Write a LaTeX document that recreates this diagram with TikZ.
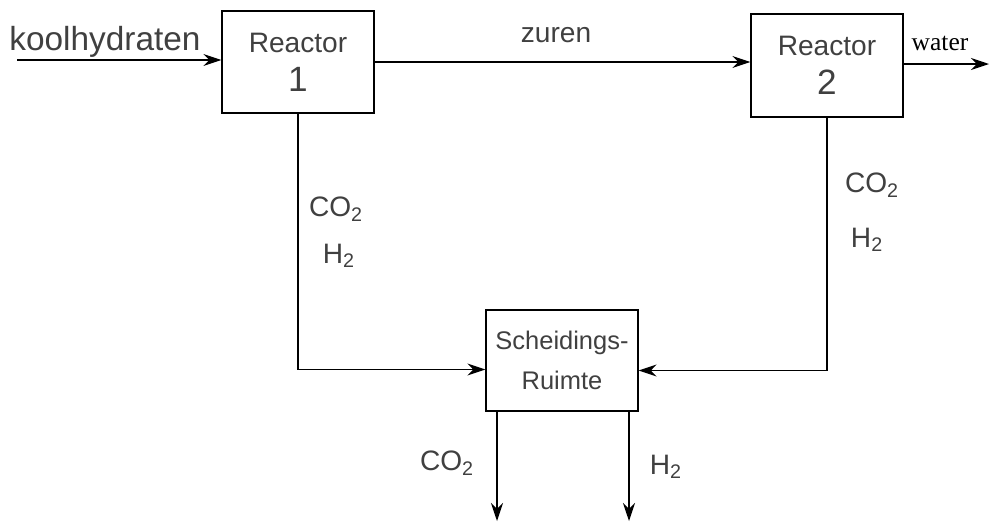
\documentclass[tikz,border=0pt]{standalone}
\usepackage{fontspec}
\setmainfont{Liberation Serif}
\newfontfamily\hand{Liberation Sans}
\usepackage{tikz}
\usetikzlibrary{arrows.meta, positioning, calc}

\begin{document}
\begin{tikzpicture}
\tikzstyle{reactor} = [rectangle, minimum width=3.04cm, minimum height=2.04cm, text centered, draw=black, line width=0.7pt, align=center, font=\hand\fontsize{16}{22}\selectfont, text=black!75]
\tikzstyle{lbl} = [font=\hand\fontsize{16}{18}\selectfont, text=black!75, inner sep=0pt]
\tikzstyle{arrow} = [line width=0.7pt, -{Stealth[length=3.6mm, width=2.4mm]}]

\useasboundingbox (0,0) rectangle (19.8,-10.44);

% Reactors
\node (reactor1) [reactor] at (5.96,-1.24) {Reactor\\{\fontsize{20}{22}\selectfont 1}};
\node (reactor2) [reactor, minimum height=2.06cm] at (16.54,-1.31) {Reactor\\{\fontsize{20}{22}\selectfont 2}};
\node (scheiding) [reactor, minimum height=2.02cm, font=\hand\fontsize{14.5}{23}\selectfont] at (11.24,-7.21) {Scheidings-\\Ruimte};

% Free ends
\coordinate (feed) at (0.34,-1.2);
\coordinate (waterout) at (19.78,-1.28);
\coordinate (outco2) at (9.94,-10.42);
\coordinate (outh2) at (12.58,-10.42);

% Labels
\node (koolh) [lbl, font=\hand\fontsize{19}{21}\selectfont] at (2.1,-0.84) {koolhydraten};
\node (zuren) [lbl] at (11.12,-0.7) {zuren};
\node (water) [inner sep=0pt, font=\fontsize{14.5}{16}\selectfont] at (18.8,-0.86) {water};
\node (co2a) [lbl] at (6.72,-4.18) {CO\textsubscript{2}};
\node (h2a) [lbl] at (6.78,-5.12) {H\textsubscript{2}};
\node (co2b) [lbl] at (17.44,-3.7) {CO\textsubscript{2}};
\node (h2b) [lbl] at (17.34,-4.8) {H\textsubscript{2}};
\node (co2c) [lbl] at (8.94,-9.26) {CO\textsubscript{2}};
\node (h2c) [lbl] at (13.32,-9.34) {H\textsubscript{2}};

% Connections
\draw [arrow] (feed) -- (feed -| reactor1.west);
\draw [arrow] (reactor1.east) -- (reactor1.east -| reactor2.west);
\draw [arrow] (waterout -| reactor2.east) -- (waterout);
\draw [arrow] (reactor1.south) |- ([yshift=-0.18cm]scheiding.west);
\draw [arrow] (reactor2.south) |- ([yshift=-0.2cm]scheiding.east);
\draw [arrow] (outco2 |- scheiding.south) -- (outco2);
\draw [arrow] (outh2 |- scheiding.south) -- (outh2);

\end{tikzpicture}
\end{document}
